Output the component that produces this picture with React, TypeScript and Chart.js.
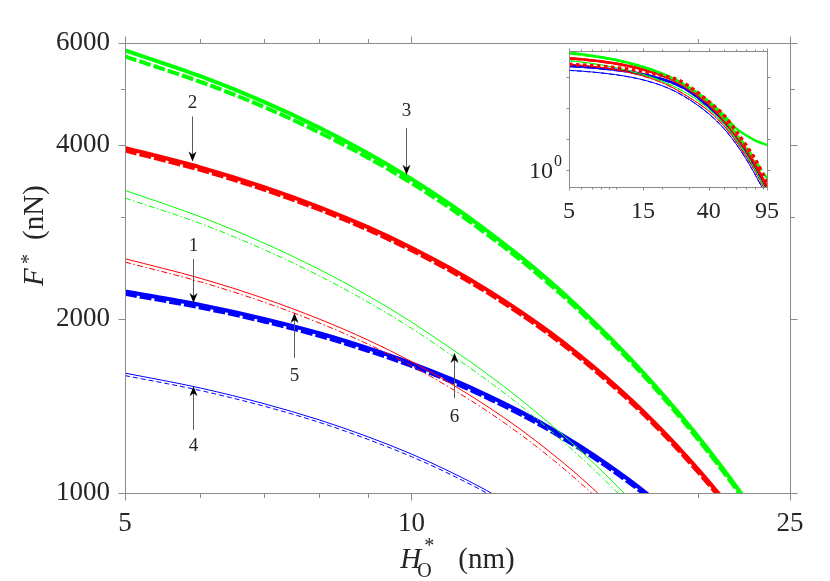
import { useEffect, useRef } from "react";
import { Chart, registerables } from "chart.js";
import type { Plugin } from "chart.js";

Chart.register(...registerables);

// film thickness H*_O (nm), shared by every curve
const hGrid = [5, 6, 7, 8, 9, 10, 11, 12, 13, 14, 15, 16, 17, 18, 19, 20, 21, 22, 23, 24, 25, 30, 40, 50, 60, 70, 80, 95];

// F* (nN)
const greenThick = [5825, 5257, 4746, 4284, 3867, 3491, 3151, 2844, 2568, 2318, 2092, 1888, 1704, 1538, 1388, 1253, 1131, 1020, 921, 831, 750, 450, 161, 58, 22, 13, 9, 6.4];
const greenThickDash = [5686, 5141, 4651, 4203, 3801, 3435, 3104, 2804, 2535, 2290, 2069, 1869, 1687, 1523, 1374, 1240, 1120, 1010, 912, 823, 743, 430, 150, 48, 15, 5.5, 2, 0.55];
const redThick = [3950, 3657, 3381, 3123, 2882, 2656, 2444, 2247, 2063, 1893, 1734, 1587, 1451, 1325, 1208, 1100, 1001, 910, 826, 749, 679, 400, 135, 41, 13, 4.5, 1.5, 0.3];
const redThickDash = [3910, 3620, 3347, 3092, 2853, 2629, 2420, 2225, 2042, 1874, 1717, 1571, 1437, 1312, 1196, 1089, 991, 901, 818, 742, 672, 395, 133, 40, 12.5, 4.3, 1.4, 0.28];
const blueThick = [2232, 2114, 2000, 1889, 1780, 1676, 1575, 1477, 1384, 1294, 1208, 1126, 1048, 974, 904, 837, 774, 715, 659, 606, 557, 340, 110, 35, 11, 3.5, 1.1, 0.22];
const blueThickDash = [2210, 2093, 1980, 1870, 1762, 1659, 1559, 1462, 1370, 1281, 1196, 1115, 1038, 964, 895, 829, 766, 708, 652, 600, 551, 337, 109, 34.6, 10.9, 3.5, 1.1, 0.22];
const greenThin = [3336, 3004, 2705, 2436, 2194, 1976, 1779, 1609, 1455, 1315, 1190, 1076, 973, 880, 795, 719, 650, 588, 532, 481, 435, 263, 93, 32, 10, 3.2, 1.0, 0.2];
const greenThinDash = [3236, 2925, 2636, 2375, 2139, 1927, 1735, 1569, 1419, 1282, 1160, 1049, 949, 858, 775, 701, 634, 573, 519, 469, 424, 256, 91, 31, 9.7, 3.1, 0.97, 0.19];
const redThin = [2542, 2351, 2170, 1999, 1839, 1688, 1546, 1414, 1291, 1176, 1070, 971, 880, 796, 719, 648, 583, 523, 469, 419, 374, 215, 80, 27, 8.5, 2.7, 0.9, 0.18];
const redThinDash = [2508, 2318, 2138, 1968, 1809, 1659, 1518, 1387, 1265, 1151, 1046, 948, 859, 777, 701, 632, 568, 510, 457, 408, 364, 210, 78, 26, 8.3, 2.6, 0.88, 0.17];
const blueThin = [1612, 1519, 1427, 1338, 1251, 1168, 1087, 1010, 936, 866, 799, 735, 675, 619, 566, 516, 469, 426, 386, 349, 314, 185, 65, 22, 7, 2.2, 0.7, 0.14];
const blueThinDash = [1596, 1504, 1413, 1325, 1238, 1156, 1076, 1000, 927, 857, 791, 728, 668, 613, 560, 511, 464, 422, 382, 346, 311, 183, 64, 21.8, 6.9, 2.2, 0.69, 0.14];
// only shown in the inset
const redDotted = [2500, 2380, 2270, 2160, 2050, 1950, 1850, 1760, 1660, 1570, 1480, 1400, 1320, 1240, 1170, 1100, 1040, 980, 920, 870, 820, 480, 160, 58, 18, 6, 2.2, 0.4];

const xMajorTicks = [5, 10, 25];
const xMinorTicks = [6, 7, 8, 9, 20];
const yMajorTicks = [1000, 2000, 4000, 6000];
const yMinorTicks = [3000, 5000];

const insetXMajorTicks = [5, 15, 40, 95];
const insetXMinorTicks = [6, 7, 8, 9, 10, 20, 30, 50, 60, 70, 80, 90];
const insetYTicks = [1, 10, 100, 1000];

// numbered arrows: H, F at arrow tip, F at arrow tail, F of the number
const arrowLabels = ["1", "2", "3", "4", "5", "6"];
const arrowH = [5.9, 5.88, 9.86, 5.9, 7.53, 11.08];
const arrowTipF = [2131, 3743, 3550, 1529, 2048, 1746];
const arrowTailF = [2538, 4478, 4276, 1286, 1712, 1459];
const arrowTextF = [2677, 4725, 4569, 1204, 1595, 1353];

const SERIF = '"Liberation Serif", "DejaVu Serif", serif';
const INK = "#262626";
const AXIS = "#8a8a8a";
const GREEN = "#00ff00";
const RED = "#ff0000";
const BLUE = "#0000ff";

const pts = (ys: number[]) => hGrid.map((h, i) => ({ x: h, y: ys[i] }));

function curve(ys: number[], color: string, width: number, dash: number[] = []) {
  return {
    data: pts(ys),
    borderColor: color,
    borderWidth: width,
    borderDash: dash,
    pointRadius: 0,
    fill: false,
    cubicInterpolationMode: "monotone" as const,
    clip: 0,
  };
}

function curveSets(thick: number, thin: number) {
  const dashDot = [6, 2.5, 1.5, 2.5];
  const longDash = [12, 3];
  return [
    curve(greenThinDash, GREEN, thin, dashDot),
    curve(greenThin, GREEN, thin),
    curve(redThinDash, RED, thin, dashDot),
    curve(redThin, RED, thin),
    curve(blueThinDash, BLUE, thin, [5, 3]),
    curve(blueThin, BLUE, thin),
    curve(greenThickDash, GREEN, thick, longDash),
    curve(greenThick, GREEN, thick),
    curve(redThickDash, RED, thick, longDash),
    curve(redThick, RED, thick),
    curve(blueThickDash, BLUE, thick, longDash),
    curve(blueThick, BLUE, thick),
  ];
}

type FrameOpts = {
  xMajor: number[];
  xMinor: number[];
  yMajor: number[];
  yMinor: number[];
  major: number;
  minor: number;
};

const framePlugin = (o: FrameOpts): Plugin<"line"> => ({
  id: "frame",
  afterDraw(chart) {
    const { ctx, chartArea: a } = chart;
    const xs = chart.scales.x;
    const ys = chart.scales.y;
    const L = Math.round(a.left) + 0.5;
    const R = Math.round(a.right) + 0.5;
    const T = Math.round(a.top) + 0.5;
    const B = Math.round(a.bottom) + 0.5;
    ctx.save();
    ctx.strokeStyle = AXIS;
    ctx.lineWidth = 1;
    ctx.beginPath();
    ctx.rect(L, T, R - L, B - T);
    const xt = (v: number, len: number) => {
      const p = Math.round(xs.getPixelForValue(v)) + 0.5;
      ctx.moveTo(p, B);
      ctx.lineTo(p, B + len);
      ctx.moveTo(p, T);
      ctx.lineTo(p, T - len);
    };
    const yt = (v: number, len: number) => {
      const p = Math.round(ys.getPixelForValue(v)) + 0.5;
      ctx.moveTo(L, p);
      ctx.lineTo(L - len, p);
      ctx.moveTo(R, p);
      ctx.lineTo(R + len, p);
    };
    o.xMajor.forEach((v) => xt(v, o.major));
    o.xMinor.forEach((v) => xt(v, o.minor));
    o.yMajor.forEach((v) => yt(v, o.major));
    o.yMinor.forEach((v) => yt(v, o.minor));
    ctx.stroke();
    ctx.restore();
  },
});

const titlePlugin: Plugin<"line"> = {
  id: "titles",
  afterDraw(chart) {
    const { ctx, chartArea: a } = chart;
    ctx.save();
    ctx.fillStyle = INK;
    ctx.textAlign = "left";
    ctx.textBaseline = "alphabetic";

    // x title: H*_O (nm)
    ctx.font = `29px ${SERIF}`;
    const wUnit = ctx.measureText("(nm)").width;
    const x0 = (a.left + a.right) / 2 - (58 + wUnit) / 2;
    const base = a.bottom + 75;
    ctx.font = `italic 29px ${SERIF}`;
    ctx.fillText("H", x0, base);
    ctx.font = `20px ${SERIF}`;
    ctx.fillText("*", x0 + 24, base - 16);
    ctx.fillText("O", x0 + 17, base + 9);
    ctx.font = `29px ${SERIF}`;
    ctx.fillText("(nm)", x0 + 58, base);

    // y title: F* (nN)
    ctx.translate(43, 286);
    ctx.rotate(-Math.PI / 2);
    ctx.font = `italic 29px ${SERIF}`;
    ctx.fillText("F", 0, 0);
    ctx.font = `20px ${SERIF}`;
    ctx.fillText("*", 22, -8);
    ctx.font = `29px ${SERIF}`;
    ctx.fillText("(nN)", 46, 0);
    ctx.restore();
  },
};

const arrowPlugin: Plugin<"line"> = {
  id: "arrows",
  afterDraw(chart) {
    const { ctx } = chart;
    const xs = chart.scales.x;
    const ys = chart.scales.y;
    ctx.save();
    arrowLabels.forEach((label, i) => {
      const x = Math.round(xs.getPixelForValue(arrowH[i])) + 0.5;
      const tip = ys.getPixelForValue(arrowTipF[i]);
      const tail = ys.getPixelForValue(arrowTailF[i]);
      const ty = ys.getPixelForValue(arrowTextF[i]);
      const d = tip > tail ? 1 : -1;
      ctx.strokeStyle = "#5a5a5a";
      ctx.lineWidth = 1;
      ctx.beginPath();
      ctx.moveTo(x, tail);
      ctx.lineTo(x, tip - d * 6);
      ctx.stroke();
      ctx.fillStyle = "#000";
      ctx.beginPath();
      ctx.moveTo(x, tip);
      ctx.lineTo(x - 4, tip - d * 10);
      ctx.lineTo(x, tip - d * 7);
      ctx.lineTo(x + 4, tip - d * 10);
      ctx.closePath();
      ctx.fill();
      ctx.fillStyle = INK;
      ctx.font = `19px ${SERIF}`;
      ctx.textAlign = "center";
      ctx.textBaseline = "middle";
      ctx.fillText(label, x, ty);
    });
    ctx.restore();
  },
};

const insetLabelPlugin: Plugin<"line"> = {
  id: "insetLabel",
  afterDraw(chart) {
    const { ctx, chartArea: a } = chart;
    const y1 = chart.scales.y.getPixelForValue(1);
    ctx.save();
    ctx.fillStyle = INK;
    ctx.textBaseline = "alphabetic";
    ctx.textAlign = "right";
    ctx.font = `24px ${SERIF}`;
    ctx.fillText("10", a.left - 16, y1 + 8);
    ctx.textAlign = "left";
    ctx.font = `16px ${SERIF}`;
    ctx.fillText("0", a.left - 15, y1 - 4);
    ctx.restore();
  },
};

export default function App() {
  const mainRef = useRef<HTMLCanvasElement>(null);
  const insetRef = useRef<HTMLCanvasElement>(null);

  useEffect(() => {
    document.body.style.margin = "0";
    if (!mainRef.current || !insetRef.current) return;

    const main = new Chart(mainRef.current, {
      type: "line",
      data: { datasets: curveSets(4, 1) },
      options: {
        responsive: false,
        animation: false,
        events: [],
        layout: { padding: { top: 43, right: 40, left: 0, bottom: 0 } },
        plugins: { legend: { display: false }, tooltip: { enabled: false } },
        scales: {
          x: {
            type: "logarithmic",
            position: "bottom",
            min: 5,
            max: 25,
            afterBuildTicks: (s: any) => {
              s.ticks = xMajorTicks.map((v) => ({ value: v }));
            },
            afterFit: (s: any) => {
              s.height = 88;
              s.paddingLeft = 0;
              s.paddingRight = 0;
            },
            ticks: {
              autoSkip: false,
              maxRotation: 0,
              minRotation: 0,
              padding: 8,
              color: INK,
              font: { family: SERIF, size: 27 },
              callback: (v: any) => String(v),
            },
            grid: { display: false, drawTicks: true, tickLength: 7 },
            border: { display: false },
          },
          y: {
            type: "logarithmic",
            position: "left",
            min: 1000,
            max: 6000,
            afterBuildTicks: (s: any) => {
              s.ticks = yMajorTicks.map((v) => ({ value: v }));
            },
            afterFit: (s: any) => {
              s.width = 125;
              s.paddingTop = 0;
              s.paddingBottom = 0;
            },
            ticks: {
              autoSkip: false,
              padding: 8,
              color: INK,
              font: { family: SERIF, size: 27 },
              callback: (v: any) => String(v),
            },
            grid: { display: false, drawTicks: true, tickLength: 7 },
            border: { display: false },
          },
        },
      },
      plugins: [
        framePlugin({ xMajor: xMajorTicks, xMinor: xMinorTicks, yMajor: yMajorTicks, yMinor: yMinorTicks, major: 7, minor: 4.5 }),
        titlePlugin,
        arrowPlugin,
      ],
    });

    const inset = new Chart(insetRef.current, {
      type: "line",
      data: {
        datasets: [curve(redDotted, RED, 3.5, [3.5, 3.5]), ...curveSets(2.5, 1)],
      },
      options: {
        responsive: false,
        animation: false,
        events: [],
        layout: { padding: { top: 11, right: 33, left: 0, bottom: 0 } },
        plugins: { legend: { display: false }, tooltip: { enabled: false } },
        scales: {
          x: {
            type: "logarithmic",
            position: "bottom",
            min: 5,
            max: 95,
            afterBuildTicks: (s: any) => {
              s.ticks = insetXMajorTicks.map((v) => ({ value: v }));
            },
            afterFit: (s: any) => {
              s.height = 43;
              s.paddingLeft = 0;
              s.paddingRight = 0;
            },
            ticks: {
              autoSkip: false,
              maxRotation: 0,
              minRotation: 0,
              padding: 7,
              color: INK,
              font: { family: SERIF, size: 24 },
              callback: (v: any) => String(v),
            },
            grid: { display: false, drawTicks: true, tickLength: 3 },
            border: { display: false },
          },
          y: {
            type: "logarithmic",
            position: "left",
            min: 0.29,
            max: 6700,
            afterFit: (s: any) => {
              s.width = 69;
              s.paddingTop = 0;
              s.paddingBottom = 0;
            },
            ticks: { display: false },
            grid: { display: false },
            border: { display: false },
          },
        },
      },
      plugins: [
        framePlugin({ xMajor: insetXMajorTicks, xMinor: insetXMinorTicks, yMajor: insetYTicks, yMinor: [], major: 3, minor: 2 }),
        insetLabelPlugin,
      ],
    });

    return () => {
      main.destroy();
      inset.destroy();
    };
  }, []);

  return (
    <div style={{ position: "relative", width: 830, height: 581, background: "#fff" }}>
      <canvas ref={mainRef} width={830} height={581} style={{ position: "absolute", left: 0, top: 0 }} />
      <canvas ref={insetRef} width={300} height={190} style={{ position: "absolute", left: 500, top: 40 }} />
    </div>
  );
}
